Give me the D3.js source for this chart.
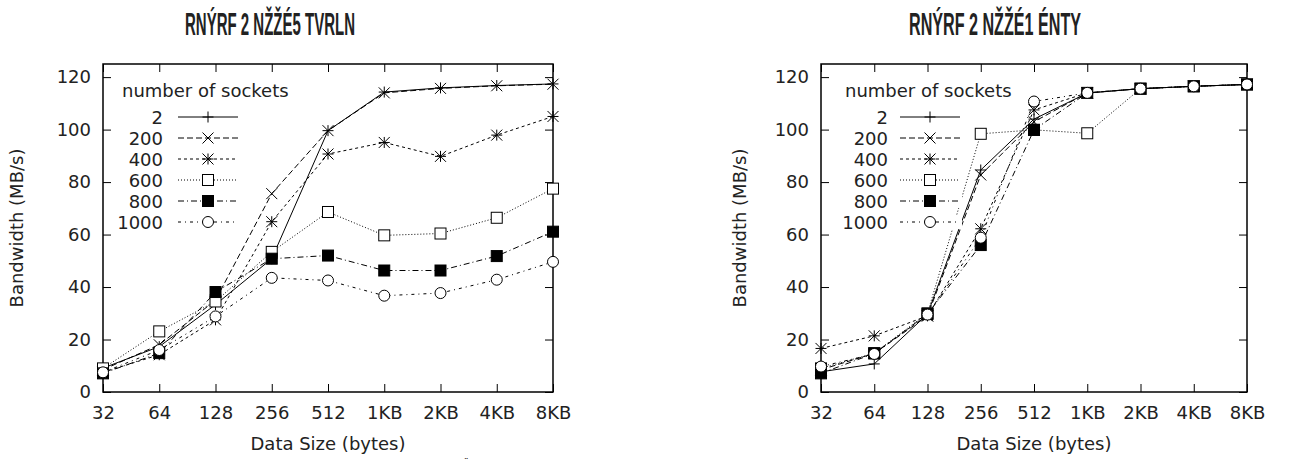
<!DOCTYPE html>
<html>
<head>
<meta charset="utf-8">
<script src="https://cdn.jsdelivr.net/npm/d3@7"></script>
<style>
  body { margin: 0; background: #fff; }
  svg text { font-family: "DejaVu Sans", sans-serif; fill: #222; }
</style>
</head>
<body>
<div id="chart"></div>
<script>
// categories on the x axis
var sizes = ["32", "64", "128", "256", "512", "1KB", "2KB", "4KB", "8KB"];
var yTicks = [0, 20, 40, 60, 80, 100, 120];
var socketLabels = ["2", "200", "400", "600", "800", "1000"];

// left panel, bandwidth (MB/s) per socket count
var left2    = [9.1, 17.3, 33.3, 50.8, 99.6, 114.3, 115.9, 116.8, 117.4];
var left200  = [8.5, 18.0, 35.0, 75.6, 99.6, 114.0, 115.7, 116.7, 117.3];
var left400  = [7.5, 14.2, 27.5, 64.9, 90.7, 95.1, 89.8, 97.9, 105.0];
var left600  = [9.0, 23.1, 34.5, 53.4, 68.6, 59.7, 60.4, 66.4, 77.5];
var left800  = [7.1, 14.8, 38.1, 50.8, 52.0, 46.3, 46.3, 51.8, 61.1];
var left1000 = [7.5, 16.0, 28.8, 43.5, 42.5, 36.7, 37.7, 42.8, 49.6];

// right panel
var right2    = [7.7, 10.7, 29.7, 84.6, 104.0, 113.9, 115.6, 116.5, 117.2];
var right200  = [8.5, 14.7, 29.0, 82.7, 103.0, 114.0, 115.6, 116.5, 117.2];
var right400  = [16.6, 21.4, 29.0, 62.2, 107.5, 114.0, 115.6, 116.5, 117.2];
var right600  = [9.0, 14.8, 30.0, 98.4, 99.9, 98.6, 115.6, 116.5, 117.2];
var right800  = [7.1, 14.7, 29.7, 56.0, 99.9, 114.0, 115.6, 116.5, 117.2];
var right1000 = [9.7, 14.5, 29.5, 58.8, 110.7, 114.0, 115.6, 116.5, 117.2];

var titleLeft = "RNÝRF 2 NŽŽÉ5 TVRLN";
var titleRight = "RNÝRF 2 NŽŽÉ1 ÉNTY";

// gnuplot-ish monochrome line styles
var dashes = ["none", "6,3", "3,3", "1,2", "6,3,1,3", "3,4,1,4"];
var markers = ["plus", "cross", "star", "square", "fsquare", "circle"];

var svg = d3.select("#chart").append("svg")
    .attr("width", 1294).attr("height", 468);

function drawMarker(g, type, x, y) {
  var s = 5.5;
  if (type === "plus" || type === "star") {
    g.append("path").attr("d", "M" + (x - s) + "," + y + "H" + (x + s) + "M" + x + "," + (y - s) + "V" + (y + s))
      .attr("stroke", "#000").attr("fill", "none");
  }
  if (type === "cross" || type === "star") {
    g.append("path").attr("d", "M" + (x - s) + "," + (y - s) + "L" + (x + s) + "," + (y + s) + "M" + (x - s) + "," + (y + s) + "L" + (x + s) + "," + (y - s))
      .attr("stroke", "#000").attr("fill", "none");
  }
  if (type === "square" || type === "fsquare") {
    g.append("rect").attr("x", x - s).attr("y", y - s).attr("width", 2 * s).attr("height", 2 * s)
      .attr("stroke", "#000").attr("fill", type === "fsquare" ? "#000" : "#fff");
  }
  if (type === "circle") {
    g.append("circle").attr("cx", x).attr("cy", y).attr("r", s)
      .attr("stroke", "#000").attr("fill", "#fff");
  }
}

function panel(opts) {
  var x = d3.scalePoint().domain(sizes).range([opts.x0, opts.x1]);
  var y = d3.scaleLinear().domain([0, 125]).range([392, 64]);
  var g = svg.append("g");

  g.append("g").attr("transform", "translate(0,392)")
    .call(d3.axisBottom(x).tickSize(-8).tickPadding(14));
  g.append("g").attr("transform", "translate(0,64)")
    .call(d3.axisTop(x).tickSize(-8).tickFormat(""));
  g.append("g").attr("transform", "translate(" + opts.x0 + ",0)")
    .call(d3.axisLeft(y).tickValues(yTicks).tickSize(-8).tickPadding(12));
  g.append("g").attr("transform", "translate(" + opts.x1 + ",0)")
    .call(d3.axisRight(y).tickValues(yTicks).tickSize(-8).tickFormat(""));
  g.selectAll(".domain").remove();
  g.selectAll(".tick line").attr("stroke", "#000");
  g.selectAll(".tick text").attr("font-size", 18).attr("font-family", "DejaVu Sans").attr("fill", "#222");

  g.append("rect").attr("x", opts.x0).attr("y", 64)
    .attr("width", opts.x1 - opts.x0).attr("height", 328)
    .attr("fill", "none").attr("stroke", "#000").attr("stroke-width", 1.5);

  var line = d3.line().x(function(d, i) { return x(sizes[i]); }).y(function(d) { return y(d); });

  opts.series.forEach(function(vals, k) {
    g.append("path").datum(vals).attr("d", line)
      .attr("fill", "none").attr("stroke", "#000").attr("stroke-width", 1)
      .attr("stroke-dasharray", dashes[k]);
  });
  opts.series.forEach(function(vals, k) {
    vals.forEach(function(v, i) { drawMarker(g, markers[k], x(sizes[i]), y(v)); });
  });

  // legend
  var lg = g.append("g");
  lg.append("text").attr("x", opts.legX).attr("y", 97).attr("font-size", 18).text("number of sockets");
  socketLabels.forEach(function(lab, k) {
    var yy = 117 + k * 21;
    lg.append("text").attr("x", opts.legLabelX).attr("y", yy + 6.5)
      .attr("text-anchor", "end").attr("font-size", 18).text(lab);
    lg.append("rect").attr("x", opts.legLineX - 2).attr("y", yy - 7).attr("width", 64).attr("height", 14).attr("fill", "#fff");
    lg.append("path").attr("d", "M" + opts.legLineX + "," + yy + "H" + (opts.legLineX + 60))
      .attr("stroke", "#000").attr("stroke-dasharray", dashes[k]);
    drawMarker(lg, markers[k], opts.legLineX + 30, yy);
  });

  // axis titles
  svg.append("text").attr("transform", "translate(" + opts.yLabX + ",228) rotate(-90)")
    .attr("text-anchor", "middle").attr("dy", "0.35em").attr("font-size", 18).text("Bandwidth (MB/s)");
  svg.append("text").attr("x", (opts.x0 + opts.x1) / 2).attr("y", 450)
    .attr("text-anchor", "middle").attr("font-size", 18).text("Data Size (bytes)");

  svg.append("text").attr("x", opts.titleX).attr("y", 35)
    .attr("font-weight", "bold")
    .attr("font-size", 31).attr("textLength", opts.titleW).attr("lengthAdjust", "spacingAndGlyphs")
    .style("font-family", "'Liberation Sans Narrow', sans-serif").text(opts.title);
}

panel({
  x0: 103, x1: 553,
  series: [left2, left200, left400, left600, left800, left1000],
  legX: 122, legLabelX: 163, legLineX: 178, yLabX: 17,
  title: titleLeft, titleX: 185, titleW: 170
});
panel({
  x0: 821, x1: 1247,
  series: [right2, right200, right400, right600, right800, right1000],
  legX: 845, legLabelX: 888, legLineX: 900, yLabX: 740,
  title: titleRight, titleX: 909, titleW: 172
});

svg.append("text").attr("x", 464).attr("y", 465).attr("font-size", 9).text("¨");
</script>
</body>
</html>
